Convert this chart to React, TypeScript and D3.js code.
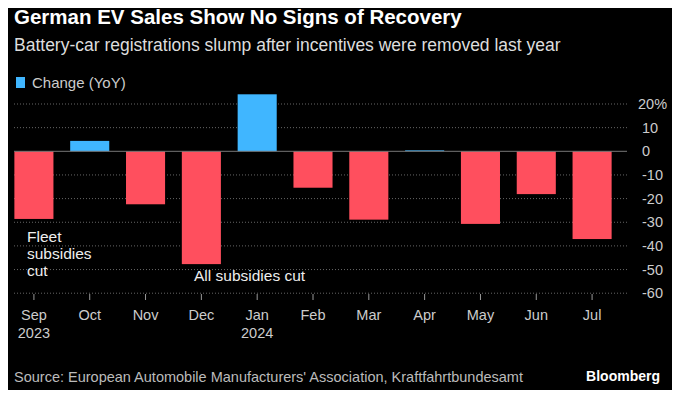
import React, { useEffect, useRef } from "react";
import * as d3 from "d3";

const months = ["Sep", "Oct", "Nov", "Dec", "Jan", "Feb", "Mar", "Apr", "May", "Jun", "Jul"];
const years = ["2023", "", "", "", "2024", "", "", "", "", "", ""];
const changeYoY = [-28.6, 4.4, -22.4, -47.7, 24.1, -15.4, -28.9, 0.4, -30.7, -18.1, -37.1];
const yTicks = [20, 10, 0, -10, -20, -30, -40, -50, -60];

const W = 680;
const H = 398;
const FONT = "'Liberation Sans', Arial, sans-serif";

const App = () => {
  const ref = useRef<SVGSVGElement>(null);

  useEffect(() => {
    const svg = d3.select(ref.current);
    svg.selectAll("*").remove();

    svg.append("rect").attr("width", W).attr("height", H).attr("fill", "#000");

    const x = d3
      .scaleBand()
      .domain(months)
      .range([6, 620])
      .paddingInner(0.3)
      .paddingOuter(0.15);
    const y = d3.scaleLinear().domain([-60, 20]).range([293.2, 104]);

    // titles
    svg
      .append("text")
      .attr("x", 14)
      .attr("y", 24)
      .attr("fill", "#fff")
      .attr("font-family", FONT)
      .attr("font-weight", "bold")
      .attr("font-size", 20.5)
      .text("German EV Sales Show No Signs of Recovery");
    svg
      .append("text")
      .attr("x", 14)
      .attr("y", 51)
      .attr("fill", "#ddd")
      .attr("font-family", FONT)
      .attr("font-size", 17.5)
      .text("Battery-car registrations slump after incentives were removed last year");

    // legend
    svg.append("rect").attr("x", 16).attr("y", 77).attr("width", 9).attr("height", 11).attr("fill", "#40b6ff");
    svg
      .append("text")
      .attr("x", 32)
      .attr("y", 88)
      .attr("fill", "#ccc")
      .attr("font-family", FONT)
      .attr("font-size", 15)
      .text("Change (YoY)");

    // grid
    const grid = svg.append("g");
    yTicks.forEach((t) => {
      if (t === 0) return;
      grid
        .append("line")
        .attr("x1", 14)
        .attr("x2", 627)
        .attr("y1", y(t))
        .attr("y2", y(t))
        .attr("stroke", "#666")
        .attr("stroke-width", 1)
        .attr("stroke-dasharray", "1,2");
    });

    // y labels
    yTicks.forEach((t) => {
      svg
        .append("text")
        .attr("x", t === 20 ? 638 : 642)
        .attr("y", y(t))
        .attr("dy", "0.35em")
        .attr("fill", "#ccc")
        .attr("font-family", FONT)
        .attr("font-size", 14.5)
        .text(t === 20 ? "20%" : String(t));
    });

    // bars
    svg
      .append("g")
      .selectAll("rect")
      .data(changeYoY)
      .join("rect")
      .attr("x", (d, i) => x(months[i])!)
      .attr("width", x.bandwidth())
      .attr("y", (d) => y(Math.max(0, d)))
      .attr("height", (d) => Math.abs(y(d) - y(0)))
      .attr("fill", (d) => (d >= 0 ? "#40b6ff" : "#ff4f5e"));

    // zero line
    svg
      .append("line")
      .attr("x1", 14)
      .attr("x2", 627)
      .attr("y1", y(0))
      .attr("y2", y(0))
      .attr("stroke", "#777")
      .attr("stroke-width", 1);

    // x ticks and labels
    months.forEach((m, i) => {
      const cx = x(m)! + x.bandwidth() / 2;
      svg
        .append("line")
        .attr("x1", cx)
        .attr("x2", cx)
        .attr("y1", 294)
        .attr("y2", 300)
        .attr("stroke", "#999");
      svg
        .append("text")
        .attr("x", cx)
        .attr("y", 320)
        .attr("text-anchor", "middle")
        .attr("fill", "#ccc")
        .attr("font-family", FONT)
        .attr("font-size", 14.5)
        .text(m);
      if (years[i]) {
        svg
          .append("text")
          .attr("x", cx)
          .attr("y", 338)
          .attr("text-anchor", "middle")
          .attr("fill", "#ccc")
          .attr("font-family", FONT)
          .attr("font-size", 14.5)
          .text(years[i]);
      }
    });

    // annotations
    const note = (lines: string[], x0: number, y0: number) => {
      lines.forEach((l, k) => {
        svg
          .append("text")
          .attr("x", x0)
          .attr("y", y0 + k * 17)
          .attr("fill", "#eee")
          .attr("font-family", FONT)
          .attr("font-size", 15.5)
          .text(l);
      });
    };
    note(["Fleet", "subsidies", "cut"], 27, 242);
    note(["All subsidies cut"], 194, 281);

    // footer
    svg
      .append("text")
      .attr("x", 14)
      .attr("y", 382)
      .attr("fill", "#bbb")
      .attr("font-family", FONT)
      .attr("font-size", 14.5)
      .text("Source: European Automobile Manufacturers' Association, Kraftfahrtbundesamt");
    svg
      .append("text")
      .attr("x", 660)
      .attr("y", 381)
      .attr("text-anchor", "end")
      .attr("fill", "#fff")
      .attr("font-family", FONT)
      .attr("font-weight", "bold")
      .attr("font-size", 14)
      .text("Bloomberg");
  }, []);

  return (
    <div style={{ margin: -8 }}>
      <svg ref={ref} width={W} height={H} style={{ display: "block" }} />
    </div>
  );
};

export default App;
